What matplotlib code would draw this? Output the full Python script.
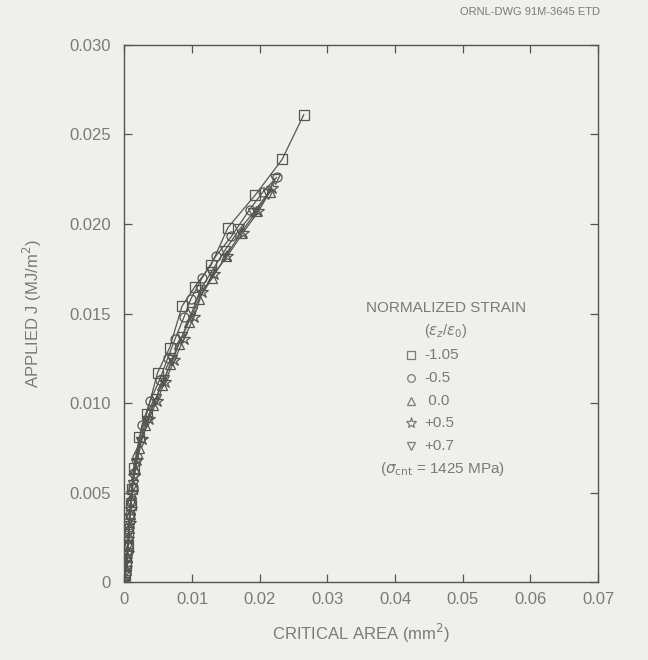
import matplotlib.pyplot as plt

plt.rcParams['font.family'] = ['Liberation Sans', 'DejaVu Sans']

# critical area (mm^2) vs applied J (MJ/m^2), one list pair per normalized strain
area_m105 = [0, 0.0001, 0.0002, 0.0003, 0.0005, 0.0006, 0.0007, 0.0009, 0.0011, 0.0014, 0.0022,
             0.0033, 0.0049, 0.0067, 0.0085, 0.0104, 0.0128, 0.0153, 0.0193, 0.0233, 0.0265]
j_m105 = [0, 0.0004, 0.0009, 0.0015, 0.0021, 0.0028, 0.0035, 0.0043, 0.0052, 0.0064, 0.0081,
          0.0094, 0.0117, 0.0131, 0.0154, 0.0165, 0.0177, 0.0198, 0.0216, 0.0236, 0.0261]

area_m05 = [0, 0.0002, 0.0004, 0.0005, 0.0006, 0.0007, 0.0008, 0.0010, 0.0012, 0.0014, 0.0018,
            0.0026, 0.0038, 0.0052, 0.0064, 0.0075, 0.0088, 0.0098, 0.0115, 0.0135, 0.0158,
            0.0185, 0.0205, 0.0225]
j_m05 = [0, 0.0005, 0.0011, 0.0017, 0.0024, 0.0031, 0.0038, 0.0045, 0.0053, 0.0061, 0.0070,
         0.0088, 0.0101, 0.0113, 0.0125, 0.0136, 0.0148, 0.0158, 0.0170, 0.0182, 0.0193,
         0.0208, 0.0218, 0.0226]

area_00 = [0, 0.0002, 0.0004, 0.0005, 0.0007, 0.0008, 0.0010, 0.0012, 0.0015, 0.0021, 0.0030,
           0.0042, 0.0055, 0.0068, 0.0080, 0.0095, 0.0110, 0.0130, 0.0150, 0.0172, 0.0195,
           0.0215]
j_00 = [0, 0.0007, 0.0014, 0.0022, 0.0030, 0.0038, 0.0046, 0.0054, 0.0063, 0.0075, 0.0088,
        0.0099, 0.0110, 0.0122, 0.0133, 0.0145, 0.0158, 0.0170, 0.0182, 0.0195, 0.0207,
        0.0218]

area_p05 = [0, 0.0003, 0.0005, 0.0006, 0.0008, 0.0009, 0.0011, 0.0014, 0.0019, 0.0026, 0.0036,
            0.0048, 0.0060, 0.0074, 0.0088, 0.0103, 0.0115, 0.0132, 0.0152, 0.0175, 0.0198,
            0.0218]
j_p05 = [0, 0.0008, 0.0016, 0.0024, 0.0033, 0.0041, 0.0050, 0.0059, 0.0068, 0.0080, 0.0091,
         0.0101, 0.0112, 0.0124, 0.0136, 0.0148, 0.0162, 0.0172, 0.0182, 0.0195, 0.0207,
         0.0220]

area_p07 = [0, 0.0002, 0.0004, 0.0005, 0.0006, 0.0008, 0.0010, 0.0012, 0.0017, 0.0024, 0.0034,
            0.0046, 0.0058, 0.0071, 0.0085, 0.0100, 0.0112, 0.0128, 0.0148, 0.0170, 0.0190,
            0.0212, 0.0222]
j_p07 = [0, 0.0006, 0.0013, 0.0020, 0.0027, 0.0035, 0.0044, 0.0054, 0.0066, 0.0078, 0.0090,
         0.0102, 0.0113, 0.0124, 0.0137, 0.0151, 0.0163, 0.0173, 0.0185, 0.0197, 0.0206,
         0.0217, 0.0225]

series = [
    (area_m105, j_m105, 's', '-1.05'),
    (area_m05, j_m05, 'o', '-0.5'),
    (area_00, j_00, '^', ' 0.0'),
    (area_p05, j_p05, '*', '+0.5'),
    (area_p07, j_p07, 'v', '+0.7'),
]

x_ticks = [0, 0.01, 0.02, 0.03, 0.04, 0.05, 0.06, 0.07]
x_labels = ['0', '0.01', '0.02', '0.03', '0.04', '0.05', '0.06', '0.07']
y_ticks = [0, 0.005, 0.010, 0.015, 0.020, 0.025, 0.030]
y_labels = ['0', '0.005', '0.010', '0.015', '0.020', '0.025', '0.030']

bg = '#efefec'
ink = '#7a7a78'
line_c = '#555553'

fig = plt.figure(figsize=(6.48, 6.60), dpi=100, facecolor=bg)
ax = fig.add_axes([0.192, 0.118, 0.731, 0.814], facecolor=bg)

for xs, ys, m, lab in series:
    ms = 9 if m == '*' else 6.5
    ax.plot(xs, ys, '-', color=line_c, lw=0.9, marker=m, ms=ms,
            mfc='none', mec=line_c, mew=0.9)

ax.set_xlim(0, 0.07)
ax.set_ylim(0, 0.030)
ax.set_xticks(x_ticks)
ax.set_xticklabels(x_labels)
ax.set_yticks(y_ticks)
ax.set_yticklabels(y_labels)
ax.tick_params(direction='in', length=6, width=0.9, color=line_c, labelcolor=ink,
               labelsize=12, top=True, right=True)
ax.tick_params(axis='y', pad=10)
ax.tick_params(axis='x', pad=7)
for s in ax.spines.values():
    s.set_color(line_c)
    s.set_linewidth(1.0)

ax.set_xlabel('CRITICAL AREA (mm$^2$)', color=ink, fontsize=12, labelpad=11)
ax.set_ylabel('APPLIED J (MJ/m$^2$)', color=ink, fontsize=12, labelpad=18)

fig.text(0.926, 0.982, 'ORNL-DWG 91M-3645 ETD', ha='right', va='center',
         color=ink, fontsize=8)

# legend text block
ax.text(0.0475, 0.0153, 'NORMALIZED STRAIN', ha='center', va='center',
        color=ink, fontsize=11)
ax.text(0.0475, 0.0140, r'($\epsilon_z$/$\epsilon_0$)', ha='center', va='center',
        color=ink, fontsize=10.5)
for i, (xs, ys, m, lab) in enumerate(series):
    yy = 0.0127 - i * 0.00128
    ms = 8 if m == '*' else 5.5
    ax.plot([0.0423], [yy], marker=m, ms=ms, mfc='none', mec=ink, mew=0.9,
            clip_on=False)
    ax.text(0.0443, yy, lab, ha='left', va='center', color=ink, fontsize=11)
ax.text(0.0470, 0.0063, r'($\sigma_{\rm cnt}$ = 1425 MPa)', ha='center',
        va='center', color=ink, fontsize=11)

fig.savefig('out.png', dpi=100, facecolor=bg)
